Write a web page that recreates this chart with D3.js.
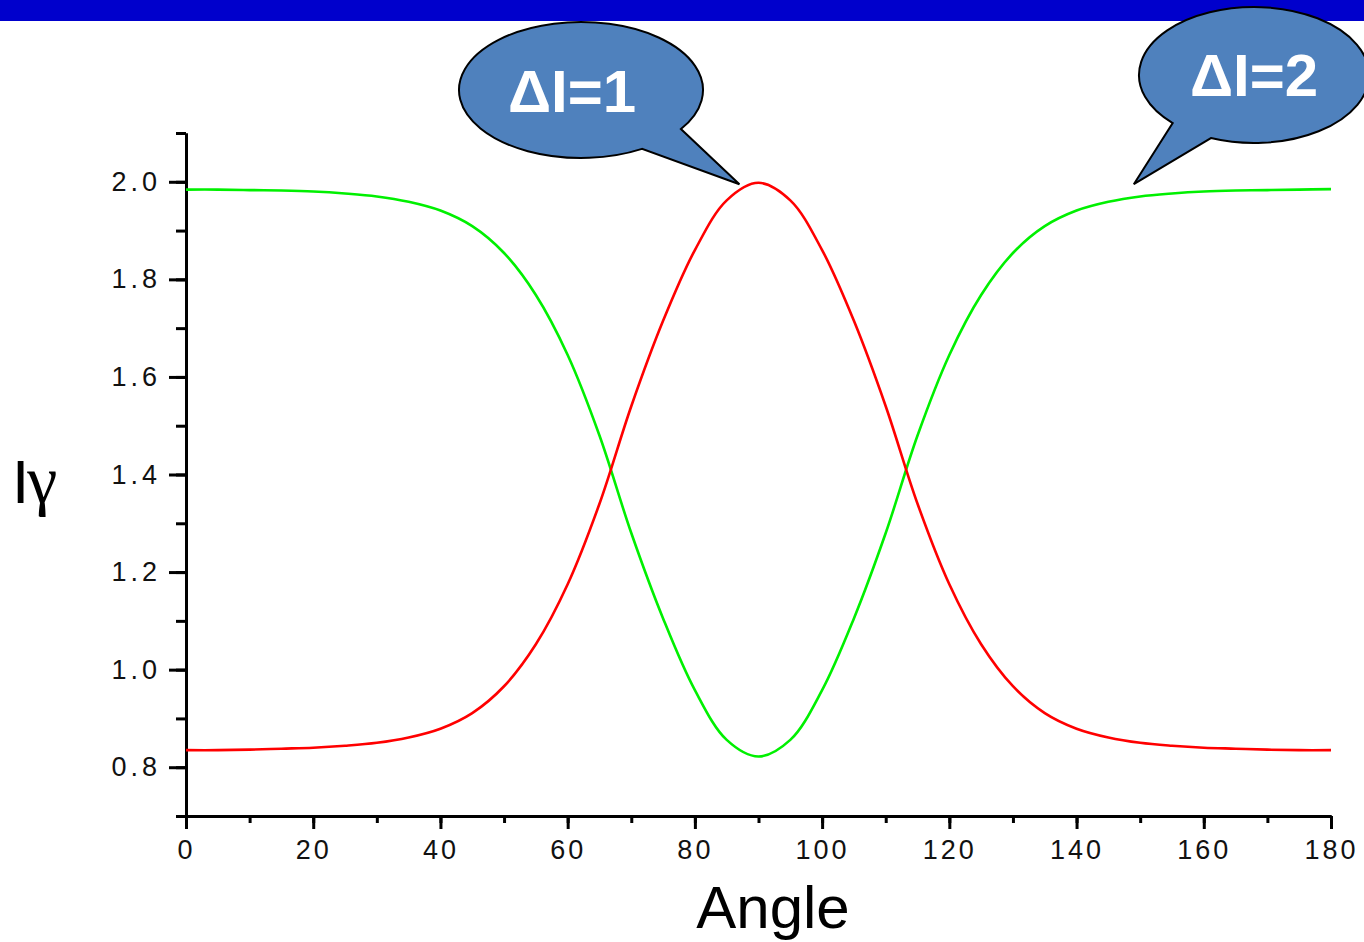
<!DOCTYPE html>
<html lang="en">
<head>
<meta charset="utf-8">
<title>I gamma vs Angle</title>
<script src="https://cdn.jsdelivr.net/npm/d3@7/dist/d3.min.js"></script>
<style>
    html, body { margin: 0; padding: 0; background: #fff; }
    svg { display: block; }
    .tick text { font-family: Arial, "Liberation Sans", sans-serif; fill: #111; }
</style>
</head>
<body>
<div id="chart"></div>
<script>
// angles (degrees) and the two intensity curves
const angles = [0, 5, 10, 15, 20, 25, 30, 35, 40, 45, 50, 55, 60, 65, 70, 75, 80, 85, 90,
    95, 100, 105, 110, 115, 120, 125, 130, 135, 140, 145, 150, 155, 160, 165, 170, 175, 180];
const deltaI1 = [0.835, 0.835, 0.836, 0.838, 0.840, 0.844, 0.850, 0.861, 0.879, 0.911, 0.966, 1.052, 1.175, 1.340, 1.540, 1.715, 1.860, 1.962, 1.998,
    1.962, 1.860, 1.715, 1.540, 1.340, 1.175, 1.052, 0.966, 0.911, 0.879, 0.861, 0.850, 0.844, 0.840, 0.838, 0.836, 0.835, 0.835];
const deltaI2 = [1.984, 1.984, 1.983, 1.982, 1.980, 1.976, 1.970, 1.959, 1.941, 1.909, 1.854, 1.768, 1.645, 1.480, 1.280, 1.105, 0.958, 0.856, 0.822,
    0.856, 0.958, 1.105, 1.280, 1.480, 1.645, 1.768, 1.854, 1.909, 1.941, 1.959, 1.970, 1.976, 1.980, 1.982, 1.983, 1.984, 1.985];

const xMajor = d3.range(0, 181, 20);
const xMinor = d3.range(0, 181, 10);
const yMajor = [0.8, 1.0, 1.2, 1.4, 1.6, 1.8, 2.0];
const yMinor = [0.7, 0.8, 0.9, 1.0, 1.1, 1.2, 1.3, 1.4, 1.5, 1.6, 1.7, 1.8, 1.9, 2.0, 2.1];

const W = 1364, H = 942;
const svg = d3.select("#chart").append("svg")
    .attr("width", W)
    .attr("height", H);

const x = d3.scaleLinear().domain([0, 180]).range([186, 1331]);
const y = d3.scaleLinear().domain([0.7, 2.1]).range([816, 133]);

// top banner
svg.append("rect")
    .attr("x", 0).attr("y", 0)
    .attr("width", W).attr("height", 21)
    .attr("fill", "#0000cc");

// axes: minor ticks first, then labelled major ticks
function styleAxis(g) {
    g.select(".domain").attr("stroke", "#000").attr("stroke-width", 3);
    g.selectAll(".tick line").attr("stroke", "#000").attr("stroke-width", 3);
}

svg.append("g")
    .attr("transform", "translate(0,816)")
    .call(d3.axisBottom(x).tickValues(xMinor).tickSize(7).tickSizeOuter(0).tickFormat(""))
    .call(styleAxis);
svg.append("g")
    .attr("transform", "translate(0,816)")
    .call(d3.axisBottom(x).tickValues(xMajor).tickSize(13).tickSizeOuter(0).tickPadding(11))
    .call(styleAxis)
    .call(g => g.selectAll(".tick text")
        .attr("font-size", 27)
        .attr("letter-spacing", 3));

svg.append("g")
    .attr("transform", "translate(186,0)")
    .call(d3.axisLeft(y).tickValues(yMinor).tickSize(10).tickSizeOuter(0).tickFormat(""))
    .call(styleAxis);
svg.append("g")
    .attr("transform", "translate(186,0)")
    .call(d3.axisLeft(y).tickValues(yMajor).tickSize(17).tickSizeOuter(0).tickPadding(8).tickFormat(d3.format(".1f")))
    .call(styleAxis)
    .call(g => g.selectAll(".tick text")
        .attr("font-size", 27)
        .attr("letter-spacing", 4));

// curves
const line = d3.line()
    .x((d, i) => x(angles[i]))
    .y(d => y(d))
    .curve(d3.curveCatmullRom.alpha(0.5));

svg.append("path")
    .attr("d", line(deltaI2))
    .attr("fill", "none")
    .attr("stroke", "#00f000")
    .attr("stroke-width", 2.6);
svg.append("path")
    .attr("d", line(deltaI1))
    .attr("fill", "none")
    .attr("stroke", "#ff0000")
    .attr("stroke-width", 2.6);

// axis titles
svg.append("text")
    .attr("x", 773).attr("y", 928)
    .attr("text-anchor", "middle")
    .attr("font-family", "Arial, 'Liberation Sans', sans-serif")
    .attr("font-size", 60)
    .text("Angle");

const yl = svg.append("text")
    .attr("x", 12).attr("y", 503)
    .attr("font-size", 62);
yl.append("tspan")
    .attr("font-family", "Arial, 'Liberation Sans', sans-serif")
    .text("I");
yl.append("tspan")
    .attr("font-family", "'Times New Roman', 'Liberation Serif', serif")
    .attr("font-size", 68)
    .attr("dx", -2)
    .text("γ");

// speech bubbles pointing at the curves
const bubbles = [
    {label: "ΔI=1", cx: 581, cy: 90, rx: 122, ry: 68, t0: 35, t1: 60, tipAngle: 87, tipValue: 1.995, tx: 572, ty: 112},
    {label: "ΔI=2", cx: 1254, cy: 75, rx: 115, ry: 68, t0: 112, t1: 135, tipAngle: 149, tipValue: 1.995, tx: 1254, ty: 96}
];

bubbles.forEach(b => {
    const p = t => [b.cx + b.rx * Math.cos(t * Math.PI / 180), b.cy + b.ry * Math.sin(t * Math.PI / 180)];
    const a = p(b.t0), c = p(b.t1);
    const path = `M${a[0]},${a[1]} A${b.rx},${b.ry} 0 1 0 ${c[0]},${c[1]} L${x(b.tipAngle)},${y(b.tipValue)} Z`;
    svg.append("path")
        .attr("d", path)
        .attr("fill", "#4f81bd")
        .attr("stroke", "#000")
        .attr("stroke-width", 2);
    svg.append("text")
        .attr("x", b.tx)
        .attr("y", b.ty)
        .attr("text-anchor", "middle")
        .attr("font-family", "Arial, 'Liberation Sans', sans-serif")
        .attr("font-weight", "bold")
        .attr("font-size", 60)
        .attr("fill", "#fff")
        .text(b.label);
});
</script>
</body>
</html>
